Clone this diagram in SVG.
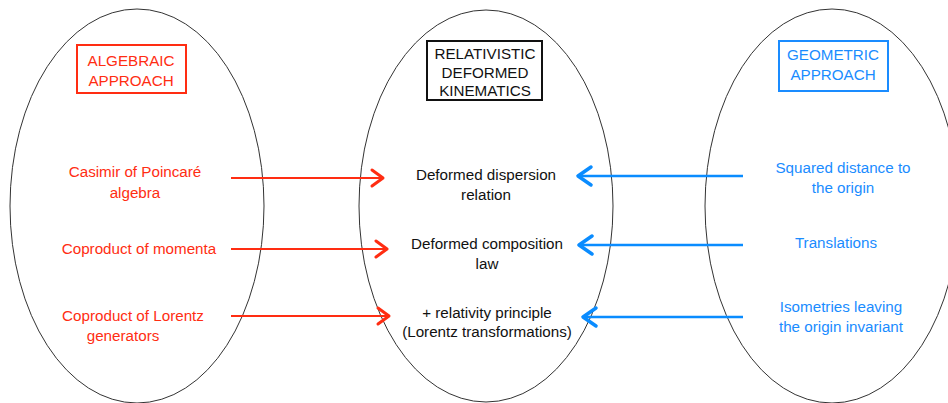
<svg xmlns="http://www.w3.org/2000/svg" width="948" height="403" viewBox="0 0 948 403">
<style>
text{font-family:"Liberation Sans",Arial,sans-serif;font-size:15.2px;text-anchor:middle}
.r{fill:#ff2d12}
.b{fill:#1a8cff}
.k{fill:#111}
.ell{fill:none;stroke:#333;stroke-width:1}
.ar{stroke:#ff2d12;stroke-width:2;fill:none}
.ab{stroke:#0a8cff;stroke-width:2.5;fill:none}
.hr{stroke:#ff2d12;stroke-width:3;fill:none;stroke-linecap:round;stroke-linejoin:round}
.hb{stroke:#0a8cff;stroke-width:3.5;fill:none;stroke-linecap:round;stroke-linejoin:round}
</style>
<rect width="948" height="403" fill="#fff"/>
<g id="algebraic">
<ellipse class="ell" cx="137" cy="206" rx="127" ry="197"/>
<rect x="77" y="45" width="109" height="48" fill="none" stroke="#ff2d12" stroke-width="2"/>
<text class="r" x="131" y="66">ALGEBRAIC</text>
<text class="r" x="131" y="86">APPROACH</text>
<text class="r" x="135" y="177">Casimir of Poincaré</text>
<text class="r" x="135" y="198">algebra</text>
<text class="r" x="139" y="254">Coproduct of momenta</text>
<text class="r" x="133" y="321">Coproduct of Lorentz</text>
<text class="r" x="123" y="341">generators</text>
</g>
<g id="kinematics">
<ellipse class="ell" cx="486" cy="206" rx="127" ry="196"/>
<rect x="427" y="41" width="115" height="59" fill="none" stroke="#111" stroke-width="2"/>
<text class="k" x="485" y="59">RELATIVISTIC</text>
<text class="k" x="485" y="78">DEFORMED</text>
<text class="k" x="485" y="96">KINEMATICS</text>
<text class="k" x="486" y="180">Deformed dispersion</text>
<text class="k" x="486" y="200">relation</text>
<text class="k" x="487" y="249">Deformed composition</text>
<text class="k" x="487" y="269">law</text>
<text class="k" x="487" y="318">+ relativity principle</text>
<text class="k" x="487" y="337">(Lorentz transformations)</text>
</g>
<g id="geometric">
<ellipse class="ell" cx="832" cy="206" rx="127" ry="197"/>
<rect x="779" y="41" width="109" height="50" fill="none" stroke="#1a8cff" stroke-width="2"/>
<text class="b" x="833" y="60">GEOMETRIC</text>
<text class="b" x="833" y="80">APPROACH</text>
<text class="b" x="843" y="173">Squared distance to</text>
<text class="b" x="843" y="193">the origin</text>
<text class="b" x="836" y="248">Translations</text>
<text class="b" x="841" y="312">Isometries leaving</text>
<text class="b" x="841" y="332">the origin invariant</text>
</g>
<g id="connectors">
<line class="ar" x1="231" y1="178" x2="383" y2="178"/>
<polyline class="hr" points="372,170 383,178 372,186"/>
<line class="ar" x1="231" y1="249" x2="387" y2="249"/>
<polyline class="hr" points="376,241 387,249 376,257"/>
<line class="ar" x1="231" y1="316" x2="389" y2="316"/>
<polyline class="hr" points="378,308 389,316 378,324"/>
<line class="ab" x1="743" y1="176" x2="578" y2="176"/>
<polyline class="hb" points="591,167 578,176 591,185"/>
<line class="ab" x1="743" y1="245" x2="579" y2="245"/>
<polyline class="hb" points="592,236 579,245 592,254"/>
<line class="ab" x1="743" y1="317" x2="583" y2="317"/>
<polyline class="hb" points="596,308 583,317 596,326"/>
</g>
</svg>
